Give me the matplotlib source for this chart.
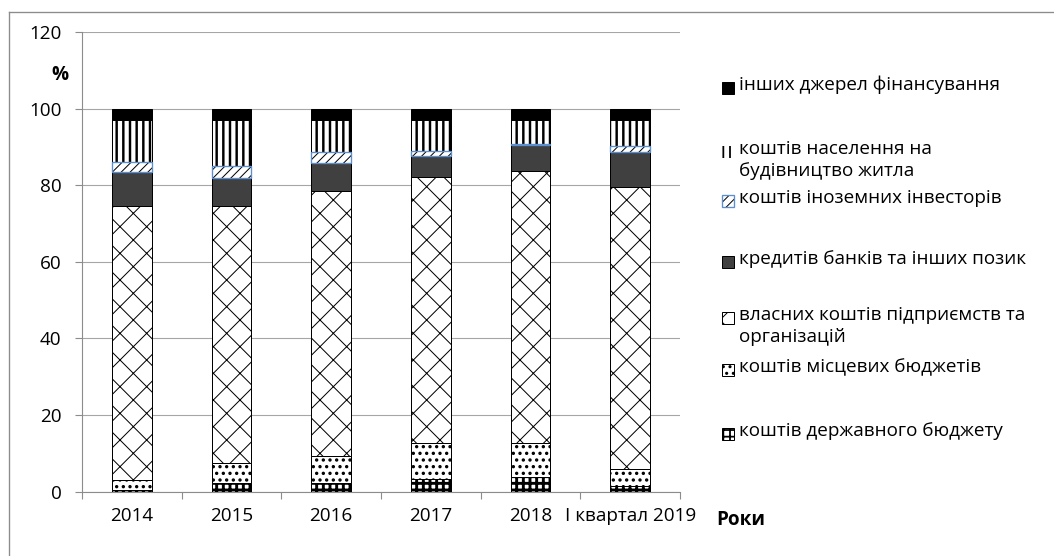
import matplotlib
matplotlib.use("Agg")
import matplotlib.pyplot as plt
from matplotlib.patches import Rectangle
from matplotlib.lines import Line2D
import numpy as np

plt.rcParams['font.family'] = ['Open Sans', 'DejaVu Sans']

years = ['2014', '2015', '2016', '2017', '2018', 'I квартал 2019']
state = [0.4, 2.4, 2.2, 3.3, 3.9, 1.6]
local = [2.7, 5.0, 7.0, 9.3, 8.7, 4.3]
own = [71.4, 67.1, 69.4, 69.6, 71.2, 73.6]
credits = [8.9, 7.3, 7.1, 5.5, 6.7, 9.3]
foreign = [2.6, 3.1, 2.9, 1.3, 0.3, 1.4]
population = [11.0, 12.1, 8.5, 8.1, 6.3, 6.9]
other = [3.0, 3.0, 2.9, 2.9, 2.9, 2.9]

labels = ['коштів державного бюджету',
          'коштів місцевих бюджетів',
          'власних коштів підприємств та\nорганізацій',
          'кредитів банків та інших позик',
          'коштів іноземних інвесторів',
          'коштів населення на\nбудівництво житла',
          'інших джерел фінансування']

DPI = 80
W, H = 1054, 556
fig = plt.figure(figsize=(W / DPI, H / DPI), dpi=DPI)

ax = fig.add_axes([82 / W, 1 - 491.7 / H, 598 / W, (491.7 - 32) / H])

x = np.arange(len(years))
bw = 0.4
FS = 17


def set_hlw(artist, lw):
    if hasattr(artist, 'set_hatch_linewidth'):
        artist.set_hatch_linewidth(lw)


styles = [
    dict(data=state, fc='white', ec='black', hatch='++', hlw=2.6, lfc='white'),
    dict(data=local, fc='white', ec='black', hatch='..', hlw=1.8, lfc='white'),
    dict(data=own, fc='white', ec='black', hatch='x', hlw=0.9, lfc='white'),
    dict(data=credits, fc='#404040', ec='black', hatch=None, hlw=1.0, lfc='#404040'),
    dict(data=foreign, fc='white', ec='black', hatch='///', hlw=0.9, outline='#5B8FD0', lfc='white'),
    dict(data=population, fc='white', ec='black', hatch='||', hlw=2.2, lfc='white'),
    dict(data=other, fc='black', ec='black', hatch=None, hlw=1.0, lfc='black'),
]

bottom = np.zeros(len(years))
for st in styles:
    vals = np.array(st['data'])
    with plt.rc_context({'hatch.linewidth': st['hlw']}):
        bars = ax.bar(x, vals, bw, bottom=bottom, color=st['fc'], edgecolor=st['ec'],
                      hatch=st['hatch'], linewidth=0.9, zorder=3)
    for b in bars:
        set_hlw(b, st['hlw'])
    if st.get('outline'):
        ax.bar(x, vals, bw, bottom=bottom, fill=False, edgecolor=st['outline'],
               linewidth=1.2, zorder=4)
    bottom += vals

ax.set_xlim(-0.5, len(years) - 0.5)
ax.set_ylim(0, 120)
ax.set_yticks(np.arange(0, 121, 20))
ax.yaxis.grid(True, color='#A6A6A6', linewidth=1.0, zorder=0)
ax.set_axisbelow(True)
for s in ['top', 'right']:
    ax.spines[s].set_visible(False)
for s in ['left', 'bottom']:
    ax.spines[s].set_color('#8C8C8C')
    ax.spines[s].set_linewidth(1.0)

ax.set_xticks(x)
ax.set_xticklabels(years)
ax.set_xticks(np.arange(-0.5, len(years), 1.0), minor=True)
ax.tick_params(axis='x', which='major', length=0, pad=14, labelsize=FS)
ax.tick_params(axis='x', which='minor', length=6.3, color='#8C8C8C', width=1.0, direction='out')
ax.tick_params(axis='y', which='major', length=6.3, color='#8C8C8C', width=1.0,
               direction='out', pad=12, labelsize=FS)

fig.text(60 / W, 1 - 75 / H, '%', ha='center', va='center', fontsize=FS, fontweight='bold')
fig.text(716 / W, 1 - 520 / H, 'Роки', ha='left', va='center', fontsize=FS, fontweight='bold')

# manual legend
leg_y = [434, 370, 318, 262, 201, 152, 88]
for st, lab, yc in zip(styles, labels, leg_y):
    y0 = 1 - (yc + 6) / H
    if st.get('outline'):
        ec = 'black'
        lw = 0
    elif st['hatch'] == '||':
        ec = 'black'
        lw = 0
    else:
        ec = 'black'
        lw = 0.9
    with plt.rc_context({'hatch.linewidth': min(st['hlw'], 1.6)}):
        r = Rectangle((722 / W, y0), 12 / W, 12 / H, transform=fig.transFigure,
                      facecolor=st['lfc'], edgecolor=ec, hatch=st['hatch'], linewidth=lw)
    set_hlw(r, min(st['hlw'], 1.6))
    fig.add_artist(r)
    if st.get('outline'):
        fig.add_artist(Rectangle((722 / W, y0), 12 / W, 12 / H, transform=fig.transFigure,
                                 fill=False, edgecolor=st['outline'], linewidth=1.2))
    fig.text(739 / W, 1 - (yc - 12) / H, lab, ha='left', va='top', fontsize=FS,
             linespacing=1.25)

# outer frame
fig.add_artist(Line2D([9 / W, 9 / W], [0, 1 - 12 / H], transform=fig.transFigure,
                      color='#8C8C8C', linewidth=1.2))
fig.add_artist(Line2D([9 / W, 1], [1 - 12 / H, 1 - 12 / H], transform=fig.transFigure,
                      color='#8C8C8C', linewidth=1.2))

fig.savefig('out.png', dpi=DPI)
